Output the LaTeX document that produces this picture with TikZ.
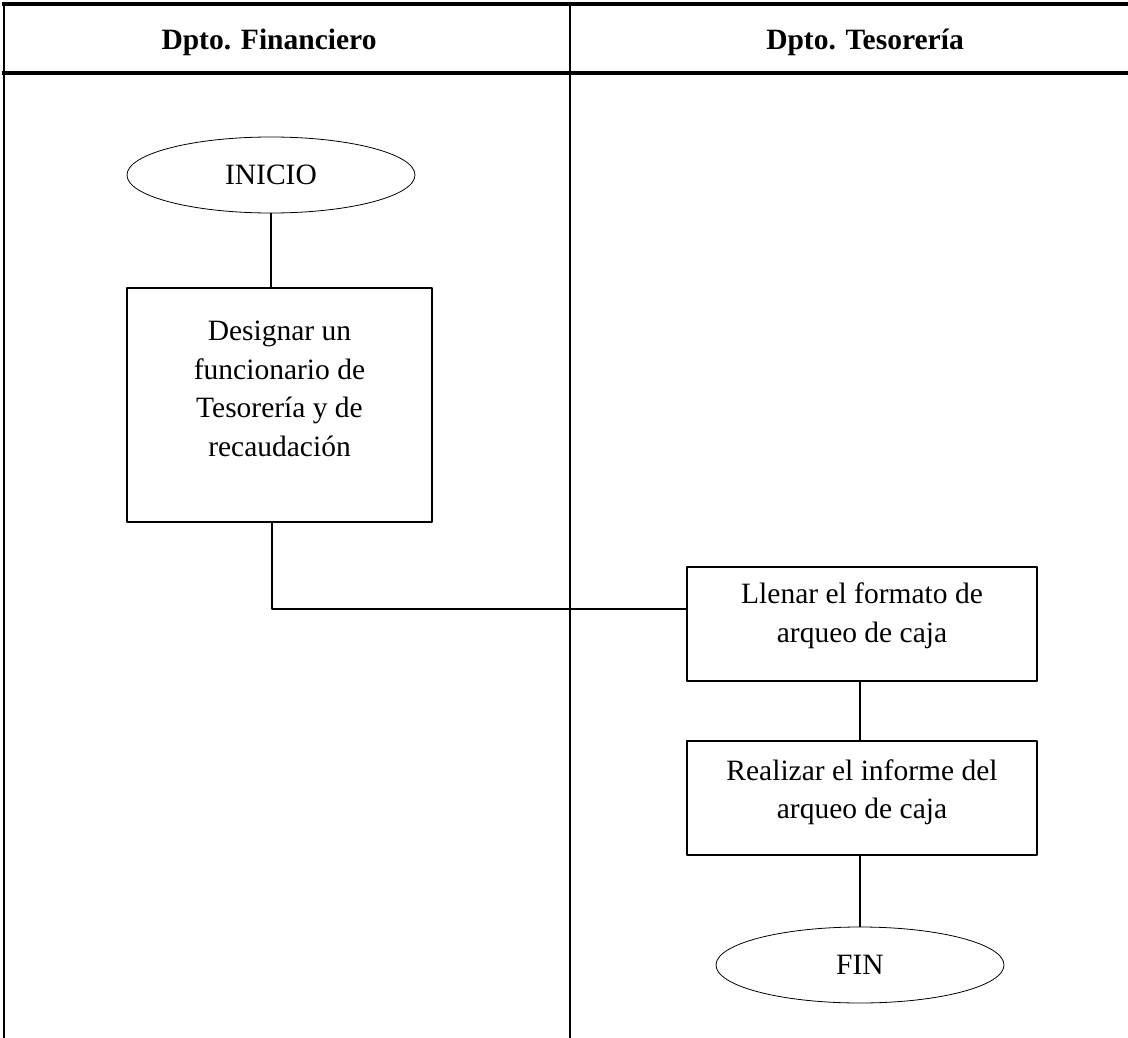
\documentclass[tikz,border=0pt]{standalone}
\usepackage{fontspec}
\setmainfont{Liberation Serif}
\usetikzlibrary{shapes.geometric}
\begin{document}
\begin{tikzpicture}[x=1pt,y=-1pt, line join=round,
                font=\fontsize{29.5}{38.5}\selectfont,
                marco/.style={line width=3.5pt},
                carril/.style={line width=2pt},
                titulo/.style={anchor=base,font=\fontsize{29.5}{38.5}\selectfont\bfseries},
                terminal/.style={draw,ellipse,line width=0.8pt,minimum width=288pt,minimum height=76pt,inner sep=0pt},
                caja/.style={draw,line width=1.3pt,inner sep=0pt},
                texto/.style={align=center,inner sep=0pt},
                conector/.style={line width=2pt}]
                \useasboundingbox (0,0) rectangle (1128,1038);
                % marco y carriles
                \draw[marco] (2,4)--(1128,4) (2,73)--(1128,73);
                \draw[carril] (3.5,2)--(3.5,1038) (570,2)--(570,1038);
                \node[titulo] (financiero) at (269,50) {Dpto. Financiero};
                \node[titulo] (tesoreria) at (865,50) {Dpto. Tesorería};
                % Dpto. Financiero
                \node[terminal] (inicio) at (271,175) {INICIO};
                \node[caja,minimum width=305pt,minimum height=234pt] (designar) at (279.5,405) {};
                \node[texto] (designar-t) at ([yshift=16pt]designar.center) {Designar un\\funcionario de\\Tesorería y de\\recaudación};
                % Dpto. Tesoreria
                \node[caja,minimum width=350pt,minimum height=114pt] (llenar) at (862,624) {};
                \node[texto] (llenar-t) at ([yshift=8pt]llenar.center) {Llenar el formato de\\arqueo de caja};
                \node[caja,minimum width=350pt,minimum height=114pt] (informe) at (862,798) {};
                \node[texto] (informe-t) at ([yshift=6pt]informe.center) {Realizar el informe del\\arqueo de caja};
                \node[terminal] (fin) at (860,965) {FIN};
                % conectores
                \coordinate (codo) at (272,609);
                \draw[conector] (inicio.south)--(inicio.south |- designar.north);
                \draw[conector] (codo |- designar.south)--(codo)--(codo -| llenar.west);
                \draw[conector] (fin.north |- llenar.south)--(fin.north |- informe.north);
                \draw[conector] (fin.north |- informe.south)--(fin.north);
            \end{tikzpicture}
\end{document}
